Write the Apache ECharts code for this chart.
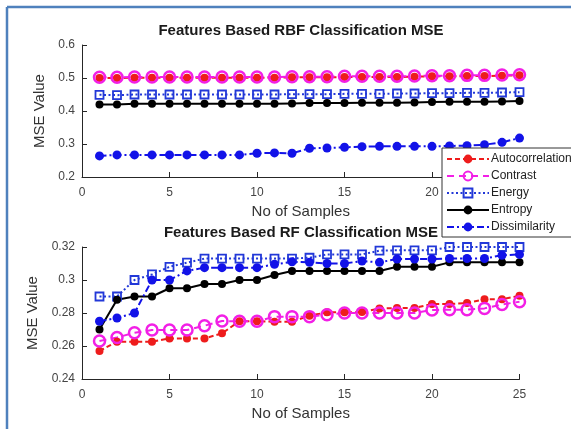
<!DOCTYPE html>
<html><head><meta charset="utf-8">
<script src="https://cdn.jsdelivr.net/npm/echarts@6/dist/echarts.min.js"></script>
<style>html,body{margin:0;padding:0;background:#fff}#c{width:571px;height:429px}</style>
</head><body><div id="c"></div>
<script>
var samples = [1,2,3,4,5,6,7,8,9,10,11,12,13,14,15,16,17,18,19,20,21,22,23,24,25];
var seriesNames = ['Autocorrelation','Contrast','Energy','Entropy','Dissimilarity'];
var yTicksTop = [0.2,0.3,0.4,0.5,0.6];
var yTicksBottom = [0.24,0.26,0.28,0.3,0.32];
var xTicks = [0,5,10,15,20,25];

// RBF classification MSE (top)
var rbfAutocorrelation = [0.500,0.500,0.501,0.501,0.501,0.501,0.501,0.501,0.501,0.501,0.501,0.502,0.502,0.502,0.503,0.503,0.503,0.503,0.504,0.505,0.505,0.506,0.506,0.507,0.508];
var rbfContrast = [0.502,0.502,0.503,0.503,0.503,0.503,0.503,0.503,0.503,0.503,0.503,0.504,0.504,0.504,0.505,0.505,0.505,0.505,0.506,0.507,0.507,0.508,0.508,0.509,0.510];
var rbfEnergy = [0.449,0.448,0.450,0.450,0.450,0.450,0.450,0.450,0.450,0.450,0.450,0.451,0.451,0.451,0.452,0.452,0.452,0.453,0.453,0.454,0.454,0.455,0.455,0.456,0.457];
var rbfEntropy = [0.420,0.420,0.422,0.422,0.422,0.422,0.422,0.422,0.422,0.422,0.422,0.423,0.424,0.424,0.424,0.425,0.425,0.425,0.426,0.427,0.428,0.428,0.428,0.429,0.430];
var rbfDissimilarity = [0.264,0.267,0.267,0.267,0.267,0.267,0.267,0.267,0.267,0.272,0.273,0.272,0.287,0.288,0.290,0.292,0.293,0.293,0.293,0.293,0.294,0.295,0.298,0.305,0.318];

// RF classification MSE (bottom)
var rfAutocorrelation = [0.257,0.2626,0.2626,0.2626,0.2646,0.2646,0.2646,0.2677,0.275,0.275,0.2747,0.2747,0.2784,0.2804,0.2804,0.2806,0.2828,0.283,0.283,0.2855,0.2855,0.286,0.2883,0.2883,0.2905];
var rfContrast = [0.263,0.2652,0.268,0.2697,0.2697,0.2697,0.2723,0.2751,0.275,0.275,0.2778,0.2778,0.2778,0.279,0.28,0.28,0.28,0.28,0.28,0.2818,0.282,0.282,0.2828,0.2852,0.2868];
var rfEnergy = [0.29,0.29,0.30,0.3034,0.308,0.3105,0.313,0.313,0.313,0.313,0.313,0.313,0.3135,0.3155,0.3155,0.3155,0.3178,0.318,0.318,0.318,0.32,0.32,0.32,0.32,0.32];
var rfEntropy = [0.27,0.288,0.29,0.29,0.295,0.295,0.2976,0.2976,0.30,0.30,0.303,0.3055,0.3055,0.3055,0.3055,0.3055,0.3055,0.308,0.308,0.308,0.3107,0.3107,0.3107,0.3107,0.3107];
var rfDissimilarity = [0.275,0.277,0.28,0.30,0.30,0.3055,0.3075,0.3075,0.3075,0.3075,0.3095,0.311,0.3107,0.310,0.310,0.3115,0.3107,0.3127,0.3127,0.3127,0.313,0.313,0.313,0.315,0.3155];

function pairs(vals){ return samples.map(function(x,i){ return [x, vals[i]]; }); }

var styles = [
  {color:'#ee1c1c', line:{type:[5,3], width:2}, symbol:'circle', size:8, item:{color:'#ee1c1c'}},
  {color:'#f21fe6', line:{type:[7,5], width:2}, symbol:'circle', size:11, item:{color:'rgba(0,0,0,0)', borderColor:'#f21fe6', borderWidth:2.5}},
  {color:'#2238d8', line:{type:[2,2.5], width:2}, symbol:'rect', size:8, item:{color:'rgba(255,255,255,0)', borderColor:'#2238d8', borderWidth:1.8}},
  {color:'#000000', line:{type:'solid', width:2}, symbol:'circle', size:8, item:{color:'#000000'}},
  {color:'#1212e8', line:{type:[7,3,2,3], width:2}, symbol:'circle', size:9, item:{color:'#1212e8'}}
];

var topData = [rbfAutocorrelation, rbfContrast, rbfEnergy, rbfEntropy, rbfDissimilarity];
var botData = [rfAutocorrelation, rfContrast, rfEnergy, rfEntropy, rfDissimilarity];

var series = [];
[topData, botData].forEach(function(set, g){
  set.forEach(function(vals, i){
    var s = styles[i];
    series.push({
      type:'line', name:seriesNames[i], xAxisIndex:g, yAxisIndex:g,
      data:pairs(vals), symbol:s.symbol, symbolSize:s.size,
      showAllSymbol:true, animation:false,
      lineStyle:{color:s.color, type:s.line.type, width:s.line.width},
      itemStyle:s.item, color:s.color
    });
  });
});

function xAxis(g){
  return {
    type:'value', gridIndex:g, min:0, max:25, interval:5,
    name:'No of Samples', nameLocation:'middle', nameGap:27,
    nameTextStyle:{color:'#333', fontSize:15, fontFamily:'Liberation Sans'},
    axisLine:{lineStyle:{color:'#262626', width:1}},
    axisTick:{inside:true, length:5, lineStyle:{color:'#262626'}},
    axisLabel:{color:'#444', fontSize:12, margin:10, fontFamily:'Liberation Sans'},
    splitLine:{show:false}
  };
}
function yAxis(g, mn, mx, iv){
  return {
    type:'value', gridIndex:g, min:mn, max:mx, interval:iv,
    name:'MSE Value', nameLocation:'middle', nameGap:33,
    nameTextStyle:{color:'#333', fontSize:15, fontFamily:'Liberation Sans'},
    axisLine:{show:true, lineStyle:{color:'#262626', width:1}},
    axisTick:{show:true, inside:true, length:5, lineStyle:{color:'#262626'}},
    axisLabel:{color:'#444', fontSize:12, margin:7, fontFamily:'Liberation Sans',
      formatter:function(v){ return String(parseFloat(v.toFixed(2))); }},
    splitLine:{show:false}
  };
}

var chart = echarts.init(document.getElementById('c'), null, {renderer:'canvas'});
chart.setOption({
  backgroundColor:'#fff',
  animation:false,
  title:[
    {text:'Features Based RBF Classification MSE', left:301, top:23, textAlign:'center', padding:0,
     textStyle:{fontSize:15, fontWeight:'bold', color:'#1a1a1a', fontFamily:'Liberation Sans'}},
    {text:'Features Based RF Classification MSE', left:301, top:225, textAlign:'center', padding:0,
     textStyle:{fontSize:15, fontWeight:'bold', color:'#1a1a1a', fontFamily:'Liberation Sans'}}
  ],
  grid:[
    {left:82, top:45, width:437.5, height:132},
    {left:82, top:247, width:437.5, height:132}
  ],
  xAxis:[xAxis(0), xAxis(1)],
  yAxis:[yAxis(0,0.2,0.6,0.1), yAxis(1,0.24,0.32,0.02)],
  legend:{
    data:seriesNames, orient:'vertical', left:442, top:148,
    itemWidth:42, itemHeight:11, itemGap:5,
    padding:[5,4,4,4],
    backgroundColor:'#fff', borderColor:'#333', borderWidth:1,
    textStyle:{color:'#222', fontSize:12, fontFamily:'Liberation Sans', padding:[0,0,0,-3]},
    selectedMode:false
  },
  graphic:[
    {type:'line', shape:{x1:7, y1:7, x2:571, y2:7}, style:{stroke:'#4f81bd', lineWidth:2.5}, z:100},
    {type:'line', shape:{x1:7, y1:7, x2:7, y2:429}, style:{stroke:'#4f81bd', lineWidth:2.5}, z:100}
  ],
  series:series
});
</script></body></html>
